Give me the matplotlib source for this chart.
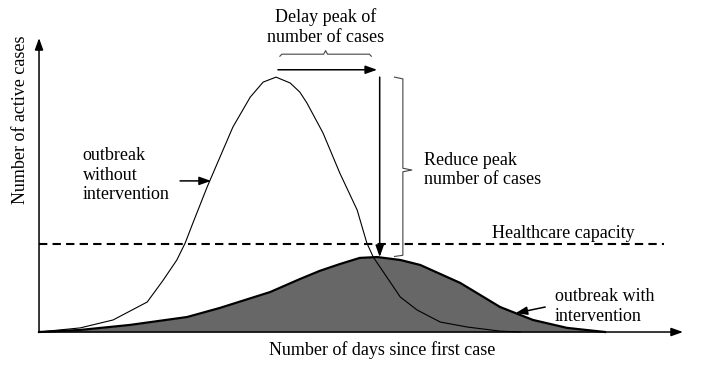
import numpy as np
import matplotlib
matplotlib.use("Agg")
import matplotlib.pyplot as plt

plt.rcParams['font.family'] = ['Liberation Serif', 'DejaVu Serif']

# days since first case / active cases
days_without = [0, 6.4, 11.5, 16.8, 19.3, 21.4, 22.7, 23.9, 26.1, 28.1, 30.1, 32.8, 34.8,
                36.8, 39.0, 40.5, 41.6, 44.1, 46.7, 49.4, 50.9, 51.9, 54.0, 56.1, 58.7,
                62.3, 66.5, 71.6, 74.7]
cases_without = [0, 1.4, 4.1, 10.2, 17.7, 24.5, 30.3, 37.1, 49.3, 59.5, 69.7, 79.9, 85.0,
                 86.7, 84.7, 81.6, 77.9, 67.7, 54.1, 41.5, 30.3, 25.5, 18.7, 11.9, 7.5,
                 3.4, 1.7, 0.3, 0]
days_with = [0, 6.4, 14.1, 23.0, 28.1, 35.9, 40.5, 43.6, 46.7, 49.8, 52.5, 56.1, 59.2,
             65.4, 71.6, 76.7, 82.0, 87.9]
cases_with = [0, 0.7, 2.4, 5.1, 8.2, 13.6, 18.0, 20.8, 23.1, 25.2, 25.5, 24.5, 22.8,
              16.7, 8.5, 4.1, 1.4, 0]
capacity = 30
capacity_end = 97

fig = plt.figure(figsize=(7.02, 3.66), dpi=100)
ax = fig.add_axes([0, 0, 1, 1])
ax.set_xlim(-6.06, 102.95)
ax.set_ylim(-11.56, 112.93)
ax.axis('off')

fs = 13
ls = 1.22
head = dict(arrowstyle='-|>,head_length=0.7,head_width=0.25', color='black', lw=1.1,
            shrinkA=0, shrinkB=0)

# axes arrows
ax.annotate('', xy=(100, 0), xytext=(0, 0), arrowprops=head)
ax.annotate('', xy=(0, 100), xytext=(0, 0), arrowprops=head)

# curves
ax.fill_between(days_with, cases_with, 0, color='#676767', lw=0)
ax.plot(days_with, cases_with, color='black', lw=1.6)
ax.plot(days_without, cases_without, color='black', lw=0.8)
ax.plot([0, capacity_end], [capacity, capacity], color='black', lw=1.5,
        linestyle=(0, (4, 2.5)))

# peaks
i1 = int(np.argmax(cases_without))
i2 = int(np.argmax(cases_with))
p1x, p1y = days_without[i1], cases_without[i1]
p2x, p2y = days_with[i2], cases_with[i2]

# delay arrow + bracket
ax.annotate('', xy=(p2x, p1y + 2.5), xytext=(p1x + 0.3, p1y + 2.5), arrowprops=head)
by = p1y + 7.8
bx0, bx1 = p1x + 0.6, p2x - 0.9
bm = (bx0 + bx1) / 2
ax.plot([bx0, bx0 + 0.3, bm - 0.3, bm, bm + 0.3, bx1 - 0.3, bx1],
        [by - 0.7, by, by, by + 1.2, by, by, by - 0.7], color='#444444', lw=0.8)
ax.text(bm, by + 9.2, 'Delay peak of\nnumber of cases', ha='center', va='center',
        fontsize=fs, linespacing=ls)

# reduce arrow + brace
vx = p2x + 0.4
ax.annotate('', xy=(vx, p2y), xytext=(vx, p1y), arrowprops=head)
rx0, rx1 = vx + 2.3, vx + 3.6
rm = (p1y + p2y) / 2 - 1
ax.plot([rx0, rx1, rx1, rx1 + 1.4, rx1, rx1, rx0],
        [p1y, p1y - 0.6, rm + 0.6, rm, rm - 0.6, p2y + 0.6, p2y + 0.2],
        color='#444444', lw=0.8)
ax.text(rx1 + 3.3, rm, 'Reduce peak\nnumber of cases', ha='left', va='center',
        fontsize=fs, linespacing=ls)

# labels
ax.text(70.3, capacity + 3.4, 'Healthcare capacity', ha='left', va='center', fontsize=fs)
ax.text(6.8, 53.4, 'outbreak\nwithout\nintervention', ha='left', va='center',
        fontsize=fs, linespacing=ls)
ax.annotate('', xy=(26.7, 51.4), xytext=(21.9, 51.4), arrowprops=head)
ax.text(80.1, 8.8, 'outbreak with\nintervention', ha='left', va='center',
        fontsize=fs, linespacing=ls)
ax.annotate('', xy=(74.0, 6.4), xytext=(78.6, 8.5), arrowprops=head)

ax.text(-2.95, 72.1, 'Number of active cases', rotation=90, ha='center', va='center',
        fontsize=fs)
ax.text(53.3, -6.3, 'Number of days since first case', ha='center', va='center',
        fontsize=fs)

fig.savefig('out.png', dpi=100)
